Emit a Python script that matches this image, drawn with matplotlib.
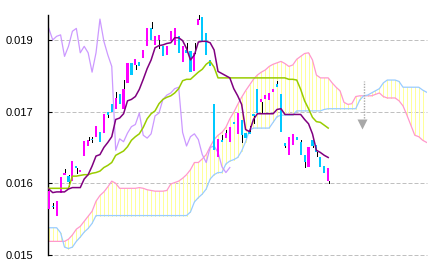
import matplotlib
matplotlib.use('Agg')
import matplotlib.pyplot as plt
import numpy as np

# daily candles
opens = [0.01564, 0.01569, 0.01555, 0.01586, 0.01612, 0.01610, 0.01603, 0.01624, 0.01616, 0.01638,
         0.01652, 0.01661, 0.01665, 0.01672, 0.01670, 0.01699, 0.01710, 0.01704, 0.01724, 0.01703,
         0.01740, 0.01768, 0.01765, 0.01769, 0.01775, 0.01791, 0.01816, 0.01793, 0.01800, 0.01791,
         0.01779, 0.01798, 0.01793, 0.01805, 0.01769, 0.01786, 0.01784, 0.01756, 0.01821, 0.01832,
         0.01809, 0.01772, 0.01710, 0.01637, 0.01661, 0.01663, 0.01657, 0.01685, 0.01669, 0.01688,
         0.01670, 0.01671, 0.01697, 0.01731, 0.01714, 0.01717, 0.01716, 0.01727, 0.01738, 0.01724,
         0.01656, 0.01639, 0.01653, 0.01664, 0.01658, 0.01639, 0.01623, 0.01660, 0.01653, 0.01637,
         0.01624, 0.01603]
highs = [0.01589, 0.01572, 0.01575, 0.01609, 0.01620, 0.01611, 0.01631, 0.01624, 0.01619, 0.01659,
         0.01664, 0.01664, 0.01680, 0.01672, 0.01697, 0.01699, 0.01710, 0.01728, 0.01724, 0.01744,
         0.01768, 0.01768, 0.01774, 0.01769, 0.01786, 0.01816, 0.01825, 0.01805, 0.01807, 0.01791,
         0.01791, 0.01812, 0.01816, 0.01805, 0.01791, 0.01795, 0.01784, 0.01795, 0.01835, 0.01832,
         0.01809, 0.01772, 0.01710, 0.01662, 0.01668, 0.01675, 0.01679, 0.01685, 0.01698, 0.01688,
         0.01670, 0.01680, 0.01697, 0.01731, 0.01717, 0.01723, 0.01726, 0.01732, 0.01742, 0.01724,
         0.01656, 0.01665, 0.01669, 0.01664, 0.01660, 0.01639, 0.01650, 0.01660, 0.01653, 0.01637,
         0.01624, 0.01622]
lows = [0.01564, 0.01565, 0.01555, 0.01586, 0.01612, 0.01596, 0.01603, 0.01615, 0.01616, 0.01638,
        0.01652, 0.01657, 0.01665, 0.01657, 0.01670, 0.01693, 0.01699, 0.01704, 0.01710, 0.01703,
        0.01740, 0.01751, 0.01759, 0.01763, 0.01775, 0.01791, 0.01800, 0.01793, 0.01788, 0.01777,
        0.01779, 0.01798, 0.01793, 0.01782, 0.01769, 0.01782, 0.01755, 0.01756, 0.01821, 0.01798,
        0.01779, 0.01763, 0.01646, 0.01637, 0.01658, 0.01663, 0.01657, 0.01682, 0.01669, 0.01657,
        0.01663, 0.01669, 0.01684, 0.01698, 0.01700, 0.01717, 0.01716, 0.01727, 0.01734, 0.01671,
        0.01651, 0.01639, 0.01653, 0.01660, 0.01640, 0.01623, 0.01623, 0.01650, 0.01638, 0.01623,
        0.01615, 0.01601]
closes = [0.01589, 0.01567, 0.01575, 0.01609, 0.01615, 0.01602, 0.01631, 0.01621, 0.01619, 0.01659,
          0.01660, 0.01660, 0.01680, 0.01657, 0.01697, 0.01695, 0.01699, 0.01719, 0.01710, 0.01732,
          0.01768, 0.01751, 0.01774, 0.01763, 0.01786, 0.01816, 0.01800, 0.01805, 0.01807, 0.01777,
          0.01791, 0.01812, 0.01816, 0.01782, 0.01791, 0.01782, 0.01755, 0.01782, 0.01829, 0.01798,
          0.01779, 0.01763, 0.01646, 0.01662, 0.01658, 0.01670, 0.01679, 0.01682, 0.01698, 0.01667,
          0.01663, 0.01669, 0.01694, 0.01698, 0.01717, 0.01723, 0.01726, 0.01732, 0.01734, 0.01671,
          0.01652, 0.01665, 0.01669, 0.01661, 0.01640, 0.01629, 0.01650, 0.01652, 0.01643, 0.01623,
          0.01615, 0.01622]

# ichimoku lines
tenkan = [0.01592, 0.01587, 0.01588, 0.01588, 0.01588, 0.01592, 0.01594, 0.01594, 0.01594, 0.01606,
          0.01612, 0.01624, 0.01638, 0.01640, 0.01650, 0.01657, 0.01665, 0.01689, 0.01691, 0.01697,
          0.01715, 0.01717, 0.01721, 0.01731, 0.01745, 0.01760, 0.01772, 0.01789, 0.01792, 0.01793,
          0.01795, 0.01796, 0.01803, 0.01803, 0.01799, 0.01788, 0.01772, 0.01779, 0.01797, 0.01798,
          0.01798, 0.01796, 0.01786, 0.01756, 0.01753, 0.01750, 0.01747, 0.01732, 0.01722, 0.01710,
          0.01675, 0.01672, 0.01689, 0.01697, 0.01697, 0.01697, 0.01697, 0.01697, 0.01703, 0.01704,
          0.01696, 0.01696, 0.01696, 0.01696, 0.01696, 0.01689, 0.01683, 0.01669, 0.01646, 0.01643,
          0.01639, 0.01636]
kijun = [0.01593, 0.01593, 0.01593, 0.01593, 0.01593, 0.01593, 0.01610, 0.01610, 0.01611, 0.01612,
         0.01612, 0.01614, 0.01615, 0.01617, 0.01622, 0.01625, 0.01629, 0.01639, 0.01642, 0.01645,
         0.01651, 0.01660, 0.01665, 0.01669, 0.01678, 0.01690, 0.01697, 0.01701, 0.01711, 0.01717,
         0.01720, 0.01722, 0.01726, 0.01732, 0.01743, 0.01745, 0.01745, 0.01750, 0.01755, 0.01759,
         0.01766, 0.01770, 0.01762, 0.01747, 0.01747, 0.01747, 0.01747, 0.01747, 0.01747, 0.01747,
         0.01747, 0.01747, 0.01747, 0.01747, 0.01747, 0.01747, 0.01747, 0.01747, 0.01747, 0.01747,
         0.01747, 0.01745, 0.01745, 0.01744, 0.01731, 0.01715, 0.01704, 0.01692, 0.01686, 0.01685,
         0.01681, 0.01677]
senkou_a = [0.01519, 0.01519, 0.01519, 0.01519, 0.01519, 0.01522, 0.01528, 0.01536, 0.01540, 0.01547,
            0.01554, 0.01561, 0.01575, 0.01583, 0.01588, 0.01595, 0.01603, 0.01600, 0.01593, 0.01593,
            0.01593, 0.01593, 0.01593, 0.01594, 0.01593, 0.01591, 0.01590, 0.01589, 0.01589, 0.01589,
            0.01590, 0.01599, 0.01601, 0.01603, 0.01607, 0.01612, 0.01619, 0.01629, 0.01629, 0.01634,
            0.01640, 0.01651, 0.01661, 0.01667, 0.01671, 0.01678, 0.01690, 0.01699, 0.01710, 0.01720,
            0.01729, 0.01737, 0.01745, 0.01751, 0.01755, 0.01758, 0.01763, 0.01766, 0.01768, 0.01770,
            0.01767, 0.01763, 0.01765, 0.01773, 0.01777, 0.01781, 0.01782, 0.01772, 0.01751, 0.01747,
            0.01747, 0.01747, 0.01740, 0.01734, 0.01729, 0.01713, 0.01710, 0.01711, 0.01721, 0.01722,
            0.01722, 0.01722, 0.01722, 0.01724, 0.01726, 0.01721, 0.01719, 0.01719, 0.01719, 0.01715,
            0.01708, 0.01695, 0.01681, 0.01667, 0.01665, 0.01660, 0.01657]
senkou_b = [0.01538, 0.01538, 0.01538, 0.01531, 0.01511, 0.01509, 0.01511, 0.01519, 0.01525, 0.01532,
            0.01537, 0.01544, 0.01555, 0.01555, 0.01555, 0.01555, 0.01555, 0.01555, 0.01555, 0.01555,
            0.01555, 0.01555, 0.01555, 0.01555, 0.01555, 0.01555, 0.01555, 0.01555, 0.01555, 0.01555,
            0.01555, 0.01555, 0.01555, 0.01555, 0.01555, 0.01555, 0.01560, 0.01574, 0.01580, 0.01585,
            0.01592, 0.01606, 0.01612, 0.01615, 0.01615, 0.01627, 0.01631, 0.01633, 0.01636, 0.01645,
            0.01658, 0.01674, 0.01677, 0.01677, 0.01677, 0.01677, 0.01677, 0.01685, 0.01693, 0.01695,
            0.01695, 0.01695, 0.01695, 0.01701, 0.01701, 0.01701, 0.01701, 0.01701, 0.01701, 0.01701,
            0.01703, 0.01704, 0.01704, 0.01704, 0.01704, 0.01704, 0.01704, 0.01704, 0.01704, 0.01716,
            0.01722, 0.01723, 0.01726, 0.01729, 0.01732, 0.01740, 0.01744, 0.01744, 0.01744, 0.01742,
            0.01734, 0.01734, 0.01734, 0.01734, 0.01734, 0.01730, 0.01727]
lag = 25  # chikou = close shifted back

ytick_pos = [0.015, 0.016, 0.017, 0.018]
ytick_lab = ['0.015', '0.016', '0.017', '0.019']

# gray down marker in the future cloud
signal_x = 80
signal_top = 0.01742
signal_bottom = 0.01691
signal_y = 0.01682

fig = plt.figure(figsize=(4.32, 2.69), dpi=100)
ax = fig.add_axes([48/432, 14/269, 379/432, 240/269])
ax.set_xlim(-0.2, 96.1)
ax.set_ylim(0.015, 0.018347)

for v in ytick_pos:
    ax.axhline(v, color='#c0c0c0', lw=0.72, dashes=(4, 2), zorder=0, clip_on=False)

# cloud, drawn as thin yellow vertical strokes
sa = np.array(senkou_a)
sb = np.array(senkou_b)
xs = np.arange(len(sa))
ax.vlines(xs, np.minimum(sa, sb), np.maximum(sa, sb), color='#ffff99', lw=0.72,
          antialiased=False, zorder=1)
ax.plot(xs, sa, color='#ff99cc', lw=0.9, zorder=2)
ax.plot(xs, sb, color='#99ccff', lw=0.9, zorder=2)

# chikou span
cl = np.array(closes)
ax.plot(np.arange(len(cl) - lag), cl[lag:], color='#cc99ff', lw=0.9, zorder=2)

# candles: wicks only where they stick out of the body
op = np.array(opens)
hi = np.array(highs)
lo = np.array(lows)
xc = np.arange(len(op))
top = np.maximum(op, cl)
bot = np.minimum(op, cl)
up = cl >= op
ax.vlines(xc + 0.1, top, hi, color='black', lw=0.72, antialiased=False, zorder=3)
ax.vlines(xc + 0.1, lo, bot, color='black', lw=0.72, antialiased=False, zorder=3)
ax.bar(xc, np.maximum(top - bot, 0.000012), bottom=bot, width=0.55,
       color=np.where(up, '#ff00ff', '#00c8ff'), linewidth=0, antialiased=False, zorder=4)

ax.plot(xc, kijun, color='#99cc00', lw=1.1, zorder=5)
ax.plot(xc, tenkan, color='#800080', lw=1.1, zorder=5)

ax.vlines(signal_x, signal_bottom, signal_top, color='#a8a8a8', lw=1.0,
          linestyles=(0, (1, 1)), zorder=6)
ax.plot(signal_x - 0.3, signal_y, marker='v', ms=7.5, color='#a8a8a8', mec='none', zorder=6)

for s in ['top', 'right', 'bottom']:
    ax.spines[s].set_visible(False)
ax.spines['left'].set_linewidth(1.0)
ax.set_xticks([])
ax.set_yticks(ytick_pos)
ax.set_yticklabels(ytick_lab, family='Liberation Sans')
ax.tick_params(axis='y', direction='in', length=3, width=0.8, pad=10.5, labelsize=8)

fig.savefig('out.png', dpi=100)
